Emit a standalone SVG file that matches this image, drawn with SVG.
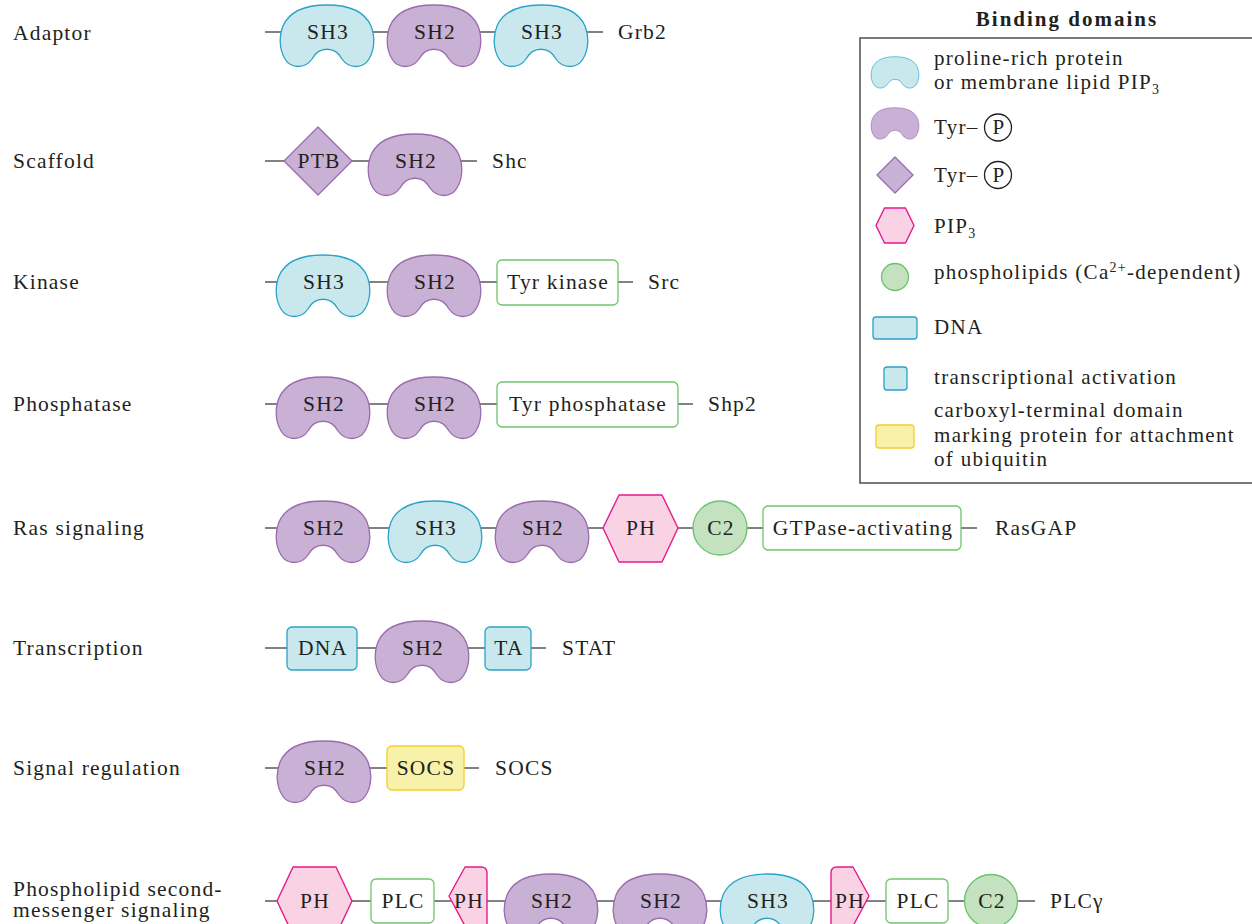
<svg xmlns="http://www.w3.org/2000/svg" xmlns:xlink="http://www.w3.org/1999/xlink" width="1252" height="924" viewBox="0 0 1252 924">
<style>
text{font-family:"Liberation Serif","Times New Roman",serif;font-size:21.5px;letter-spacing:1.2px;fill:#231f20}
.dm{text-anchor:middle}
.lg{font-size:21px;letter-spacing:1.3px}
.ttl{font-size:21px;font-weight:bold;letter-spacing:2px;text-anchor:middle}
.sh3{fill:#c8e8ee;stroke:#2aa3c8;stroke-width:1.3}
.sh2{fill:#c9b0d5;stroke:#9a6cad;stroke-width:1.3}
.ph{fill:#f9d3e4;stroke:#e8198b;stroke-width:1.4;stroke-linejoin:round}
.c2{fill:#c4e2bf;stroke:#6cc26a;stroke-width:1.3}
.bx{fill:#fff;stroke:#72c36c;stroke-width:1.3}
.dna{fill:#c8e8ee;stroke:#2aa3c8;stroke-width:1.3}
.socs{fill:#f8f1a9;stroke:#f5cd2a;stroke-width:1.3}
.ln{stroke:#58595b;stroke-width:1.4;fill:none}
.cp{fill:none;stroke:#231f20;stroke-width:1.3}
</style>
<defs>
<path id="bean" d="M -15,27 C -8,14 8,14 15,27 C 22,37 36,37 42,27 C 48,17 48,4 44,-6 C 37,-22 20,-27 0,-27 C -20,-27 -37,-22 -44,-6 C -48,4 -48,17 -42,27 C -36,37 -22,37 -15,27 Z"/>
</defs>
<rect width="1252" height="924" fill="#fff"/>

<g id="connectors">
<line class="ln" x1="265" y1="32" x2="603" y2="32"/>
<line class="ln" x1="265" y1="161" x2="477" y2="161"/>
<line class="ln" x1="265" y1="282" x2="633" y2="282"/>
<line class="ln" x1="265" y1="404" x2="693" y2="404"/>
<line class="ln" x1="265" y1="528" x2="977" y2="528"/>
<line class="ln" x1="265" y1="648" x2="546" y2="648"/>
<line class="ln" x1="265" y1="768" x2="479" y2="768"/>
<line class="ln" x1="265" y1="901" x2="1035" y2="901"/>
</g>

<g id="labels">
<text x="13" y="40">Adaptor</text>
<text x="13" y="168">Scaffold</text>
<text x="13" y="289">Kinase</text>
<text x="13" y="411">Phosphatase</text>
<text x="13" y="535">Ras signaling</text>
<text x="13" y="655">Transcription</text>
<text x="13" y="775">Signal regulation</text>
<text x="13" y="896">Phospholipid second-</text>
<text x="13" y="917">messenger signaling</text>
</g>

<g id="grb2">
<use xlink:href="#bean" href="#bean" class="sh3" x="327" y="32"/><text class="dm" x="328" y="39">SH3</text>
<use xlink:href="#bean" href="#bean" class="sh2" x="434" y="32"/><text class="dm" x="435" y="39">SH2</text>
<use xlink:href="#bean" href="#bean" class="sh3" x="541" y="32"/><text class="dm" x="542" y="39">SH3</text>
<text x="618" y="39">Grb2</text>
</g>

<g id="shc">
<path class="sh2" d="M318,127 L352,161 L318,195 L284,161 Z" stroke-linejoin="round"/><text class="dm" x="319" y="168">PTB</text>
<use xlink:href="#bean" href="#bean" class="sh2" x="415" y="161"/><text class="dm" x="416" y="168">SH2</text>
<text x="492" y="168">Shc</text>
</g>

<g id="src">
<use xlink:href="#bean" href="#bean" class="sh3" x="323" y="282"/><text class="dm" x="324" y="289">SH3</text>
<use xlink:href="#bean" href="#bean" class="sh2" x="434" y="282"/><text class="dm" x="435" y="289">SH2</text>
<rect class="bx" x="497" y="260" width="121" height="45" rx="5"/><text class="dm" x="558" y="289">Tyr kinase</text>
<text x="648" y="289">Src</text>
</g>

<g id="shp2">
<use xlink:href="#bean" href="#bean" class="sh2" x="323" y="404"/><text class="dm" x="324" y="411">SH2</text>
<use xlink:href="#bean" href="#bean" class="sh2" x="434" y="404"/><text class="dm" x="435" y="411">SH2</text>
<rect class="bx" x="497" y="382" width="181" height="45" rx="5"/><text class="dm" x="588" y="411">Tyr phosphatase</text>
<text x="708" y="411">Shp2</text>
</g>

<g id="rasgap">
<use xlink:href="#bean" href="#bean" class="sh2" x="323" y="528"/><text class="dm" x="324" y="535">SH2</text>
<use xlink:href="#bean" href="#bean" class="sh3" x="435" y="528"/><text class="dm" x="436" y="535">SH3</text>
<use xlink:href="#bean" href="#bean" class="sh2" x="542" y="528"/><text class="dm" x="543" y="535">SH2</text>
<path class="ph" d="M603,528 L619,495 L662,495 L678,528 L662,562 L619,562 Z"/><text class="dm" x="641" y="535">PH</text>
<circle class="c2" cx="720" cy="528" r="27"/><text class="dm" x="721" y="535">C2</text>
<rect class="bx" x="763" y="506" width="198" height="44" rx="5"/><text class="dm" x="863" y="535">GTPase-activating</text>
<text x="995" y="535">RasGAP</text>
</g>

<g id="stat">
<rect class="dna" x="287" y="627" width="70" height="43" rx="5"/><text class="dm" x="323" y="655">DNA</text>
<use xlink:href="#bean" href="#bean" class="sh2" x="422" y="648"/><text class="dm" x="423" y="655">SH2</text>
<rect class="dna" x="485" y="627" width="46" height="43" rx="5"/><text class="dm" x="509" y="655">TA</text>
<text x="562" y="655">STAT</text>
</g>

<g id="socs">
<use xlink:href="#bean" href="#bean" class="sh2" x="324" y="768"/><text class="dm" x="325" y="775">SH2</text>
<rect class="socs" x="387" y="746" width="77" height="44" rx="5"/><text class="dm" x="426" y="775">SOCS</text>
<text x="495" y="775">SOCS</text>
</g>

<g id="plcg">
<path class="ph" d="M277,901 L293,867 L336,867 L352,901 L336,935 L293,935 Z"/><text class="dm" x="315" y="908">PH</text>
<rect class="bx" x="371" y="879" width="63" height="44" rx="5"/><text class="dm" x="403" y="908">PLC</text>
<path class="ph" d="M487,873 Q487,867 481,867 L465,867 L449,896 L465,926 L487,926 Z"/><text class="dm" x="469" y="908">PH</text>
<use xlink:href="#bean" href="#bean" class="sh2" x="551" y="901"/><text class="dm" x="552" y="908">SH2</text>
<use xlink:href="#bean" href="#bean" class="sh2" x="660" y="901"/><text class="dm" x="661" y="908">SH2</text>
<use xlink:href="#bean" href="#bean" class="sh3" x="767" y="901"/><text class="dm" x="768" y="908">SH3</text>
<path class="ph" d="M831,873 Q831,867 837,867 L853,867 L869,896 L853,926 L831,926 Z"/><text class="dm" x="850" y="908">PH</text>
<rect class="bx" x="886" y="879" width="62" height="44" rx="5"/><text class="dm" x="918" y="908">PLC</text>
<circle class="c2" cx="991" cy="901" r="26.5"/><text class="dm" x="992" y="908">C2</text>
<text x="1050" y="908">PLCγ</text>
</g>

<g id="legend">
<text class="ttl" x="1067" y="26">Binding domains</text>
<rect x="860" y="38" width="420" height="445" fill="none" stroke="#58595b" stroke-width="1.6"/>
<use xlink:href="#bean" href="#bean" class="sh3" transform="translate(895,70.5) scale(0.51)"/>
<text class="lg" x="934" y="65">proline-rich protein</text>
<text class="lg" x="934" y="89">or membrane lipid PIP<tspan font-size="14" dy="5">3</tspan></text>
<use xlink:href="#bean" href="#bean" class="sh2" transform="translate(895,121.5) scale(0.51)"/>
<text class="lg" x="934" y="134">Tyr–</text>
<circle class="cp" cx="998" cy="127.5" r="13.5"/><text class="lg dm" x="999" y="134">P</text>
<path class="sh2" d="M895,157 L913,175 L895,193 L877,175 Z" stroke-linejoin="round"/>
<text class="lg" x="934" y="182">Tyr–</text>
<circle class="cp" cx="998" cy="175" r="13.5"/><text class="lg dm" x="999" y="182">P</text>
<path class="ph" d="M876,225.5 L884.5,208 L905.5,208 L914,225.5 L905.5,243 L884.5,243 Z"/>
<text class="lg" x="934" y="233">PIP<tspan font-size="14" dy="5">3</tspan></text>
<circle class="c2" cx="895" cy="277" r="13.5"/>
<text class="lg" x="934" y="279">phospholipids (Ca<tspan font-size="14" dy="-7">2+</tspan><tspan dy="7">-dependent)</tspan></text>
<rect class="dna" x="873" y="317" width="44" height="22" rx="3"/>
<text class="lg" x="934" y="334">DNA</text>
<rect class="dna" x="884" y="367" width="23" height="23" rx="3"/>
<text class="lg" x="934" y="384">transcriptional activation</text>
<rect class="socs" x="876" y="425" width="38" height="23" rx="3"/>
<text class="lg" x="934" y="417">carboxyl-terminal domain</text>
<text class="lg" x="934" y="442">marking protein for attachment</text>
<text class="lg" x="934" y="466">of ubiquitin</text>
</g>
</svg>
